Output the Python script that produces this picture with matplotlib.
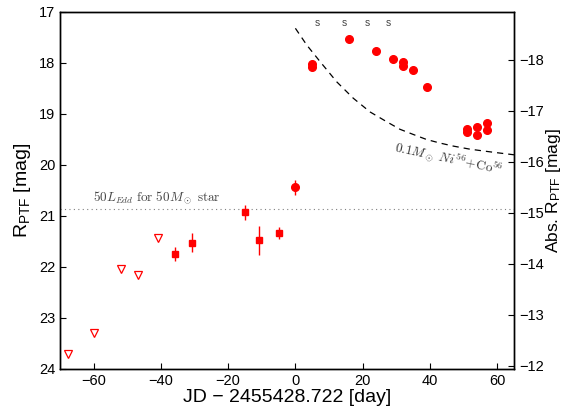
import matplotlib
matplotlib.use('Agg')
import matplotlib.pyplot as plt

plt.rcParams['font.family'] = ['Liberation Sans', 'DejaVu Sans']
plt.rcParams['mathtext.fontset'] = 'custom'
plt.rcParams['mathtext.rm'] = 'Liberation Sans'
plt.rcParams['mathtext.it'] = 'Liberation Sans:italic'
plt.rcParams['mathtext.bf'] = 'Liberation Sans:bold'

# ---- data ----
# upper limits (open triangles)
lim_x = [-67.7, -60.0, -51.8, -46.8, -41.0]
lim_y = [23.70, 23.30, 22.03, 22.16, 21.44]
# early detections (squares with error bars)
sq_x = [-35.9, -30.8, -14.9, -10.9, -4.9]
sq_y = [21.75, 21.52, 20.93, 21.48, 21.34]
sq_err = [0.14, 0.18, 0.15, 0.29, 0.12]
# detection at t=0 (circle with error bar)
c0_x = [0.0]
c0_y = [20.44]
c0_err = [0.14]
# main light curve (filled circles)
det_x = [5.0, 5.0, 16.0, 24.0, 29.0, 32.0, 32.0, 35.0, 39.0, 51.0, 51.0, 54.0, 54.0, 57.0, 57.0]
det_y = [18.02, 18.08, 17.52, 17.76, 17.92, 17.99, 18.05, 18.13, 18.48,
         19.30, 19.36, 19.26, 19.41, 19.17, 19.31]
# spectra epochs ("s" marks)
spec_x = [6.5, 14.5, 21.5, 27.6]
spec_y = 17.22
# 0.1 Msun Ni56+Co56 model curve
model_x = [0.0, 3.4, 7.3, 12.3, 17.2, 22.2, 27.1, 31.1, 35.0, 39.0, 43.0, 47.0, 51.9, 58.8, 65.0]
model_y = [17.32, 17.65, 17.97, 18.37, 18.69, 18.96, 19.15, 19.30, 19.40, 19.50,
           19.57, 19.63, 19.69, 19.75, 19.80]
# Eddington level line
edd_level = 20.87
# distance modulus for the absolute-magnitude axis
dist_mod = 35.94

x_ticks = [-60, -40, -20, 0, 20, 40, 60]
y_ticks = [17, 18, 19, 20, 21, 22, 23, 24]
abs_ticks = [-18, -17, -16, -15, -14, -13, -12]

# ---- figure ----
fig = plt.figure(figsize=(5.65, 4.12), dpi=100)
ax = fig.add_axes([0.1062, 0.1044, 0.8035, 0.8665])

ax.axhline(edd_level, ls=(0, (1, 3)), color='gray', lw=0.8)
ax.plot(model_x, model_y, color='black', lw=0.9, dashes=(5, 4))

ax.plot(lim_x, lim_y, 'v', mfc='none', mec='red', mew=0.9, ms=6, ls='none')
ax.errorbar(sq_x, sq_y, yerr=sq_err, fmt='s', color='red', ms=5, elinewidth=1, capsize=0)
ax.errorbar(c0_x, c0_y, yerr=c0_err, fmt='o', color='red', ms=5.5, elinewidth=1, capsize=0)
ax.plot(det_x, det_y, 'o', color='red', ms=5.5, ls='none')

for sx in spec_x:
    ax.text(sx, spec_y, 's', fontsize=7.5, color='#444444', ha='center', va='center')

ax.text(-60.2, 20.63, r'$50L_{Edd}\ \mathrm{for}\ 50M_\odot\ \mathrm{star}$',
        math_fontfamily='cm', fontsize=9.5, color='#444444', ha='left', va='center')
ax.text(45.6, 19.86, r'$0.1M_\odot\ Ni^{56}\!+\!\mathrm{Co}^{56}$',
        math_fontfamily='cm', fontsize=9.5, color='#333333', ha='center', va='center',
        rotation=-12, rotation_mode='anchor')

ax.set_xlim(-70, 65)
ax.set_ylim(24, 17)
ax.set_xticks(x_ticks)
ax.set_xticklabels([str(v).replace('-', '\u2212') for v in x_ticks])
ax.set_yticks(y_ticks)
ax.tick_params(direction='in', length=4, top=False, right=False, labelsize=10.5, width=0.8)
ax.set_xlabel('JD \u2212 2455428.722 [day]', fontsize=14, labelpad=1)
ax.set_ylabel(r'R$_{\mathrm{PTF}}$ [mag]', fontsize=14, labelpad=4)

ax2 = ax.twinx()
ax2.set_ylim(24 - dist_mod, 17 - dist_mod)
ax2.set_yticks(abs_ticks)
ax2.set_yticklabels([str(v).replace('-', '\u2212') for v in abs_ticks])
ax2.tick_params(direction='in', length=4, labelsize=10.5, width=0.8)
ax2.set_ylabel(r'Abs. R$_{\mathrm{PTF}}$ [mag]', fontsize=12.5, labelpad=0)

for a in (ax, ax2):
    for s in a.spines.values():
        s.set_linewidth(1.0)

fig.savefig('out.png', dpi=100)
